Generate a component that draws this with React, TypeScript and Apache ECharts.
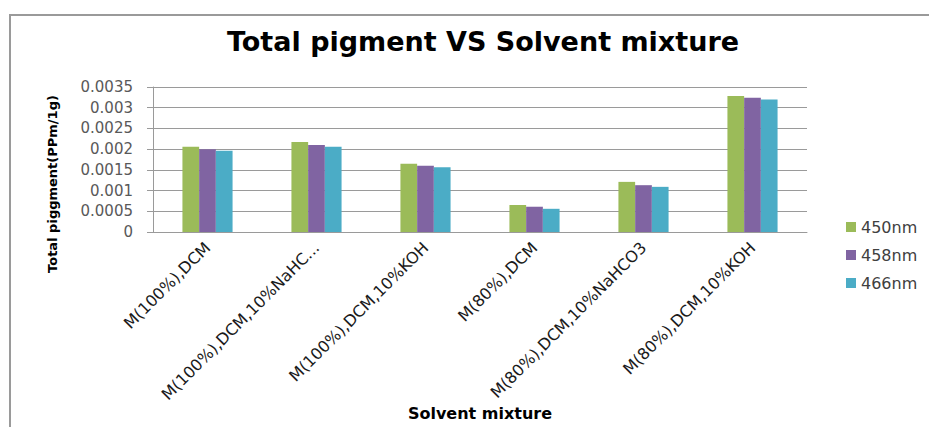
import React, { useEffect, useRef } from "react";
import * as echarts from "echarts";

const categories = [
  "M(100%),DCM",
  "M(100%),DCM,10%NaHC...",
  "M(100%),DCM,10%KOH",
  "M(80%),DCM",
  "M(80%),DCM,10%NaHCO3",
  "M(80%),DCM,10%KOH",
];
const seriesNames = ["450nm", "458nm", "466nm"];
const values450 = [0.00206, 0.00217, 0.00165, 0.00065, 0.00121, 0.00328];
const values458 = [0.002, 0.0021, 0.0016, 0.00061, 0.00113, 0.00324];
const values466 = [0.00196, 0.00206, 0.00156, 0.00056, 0.00109, 0.0032];
const colors = ["#9BBB59", "#8064A2", "#4BACC6"];

const FONT = "'DejaVu Sans', sans-serif";

export default function App() {
  const ref = useRef<HTMLDivElement>(null);
  useEffect(() => {
    if (!ref.current) return;
    const chart = echarts.init(ref.current, null, { renderer: "svg" });
    const data = [values450, values458, values466];
    chart.setOption({
      animation: false,
      backgroundColor: "#ffffff",
      title: {
        text: "Total pigment VS Solvent mixture",
        left: 478,
        textAlign: "center",
        top: 23,
        textStyle: { fontFamily: FONT, fontWeight: "bold", fontSize: 27, color: "#000000" },
      },
      graphic: [
        {
          type: "rect",
          shape: { x: 10, y: 15, width: 1000, height: 600 },
          style: { fill: "none", stroke: "#9a9a9a", lineWidth: 2 },
          silent: true,
        },
        {
          type: "text",
          x: 52,
          y: 184,
          rotation: Math.PI / 2,
          style: {
            text: "Total piggment(PPm/1g)",
            textAlign: "center",
            textVerticalAlign: "middle",
            font: "bold 13px 'DejaVu Sans', sans-serif",
            fill: "#000000",
          },
        },
      ],
      legend: {
        orient: "vertical",
        left: 841,
        top: 214,
        itemWidth: 10,
        itemHeight: 10,
        itemGap: 12,
        icon: "rect",
        textStyle: { fontFamily: FONT, fontSize: 16, color: "#404040" },
        data: seriesNames,
      },
      grid: {
        left: 153,
        right: 122,
        top: 87,
        bottom: 195,
        containLabel: false,
        outerBoundsMode: "none",
      },
      xAxis: {
        type: "category",
        data: categories,
        name: "Solvent mixture",
        nameLocation: "middle",
        nameGap: 166,
        nameTextStyle: { fontFamily: FONT, fontWeight: "bold", fontSize: 16, color: "#000000" },
        axisLine: { show: true, lineStyle: { color: "#9a9a9a", width: 1 } },
        axisTick: { show: false },
        axisLabel: {
          rotate: 45,
          interval: 0,
          margin: 13,
          fontFamily: FONT,
          fontSize: 16,
          color: "#1a1a1a",
        },
      },
      yAxis: {
        type: "value",
        min: 0,
        max: 0.0035,
        interval: 0.0005,
        axisLine: { show: true, lineStyle: { color: "#9a9a9a", width: 1 } },
        axisTick: { show: true, length: 6, lineStyle: { color: "#9a9a9a" } },
        splitLine: { show: true, lineStyle: { color: "#9a9a9a", width: 1 } },
        axisLabel: {
          margin: 20,
          fontFamily: FONT,
          fontSize: 15,
          color: "#595959",
          formatter: (v: number) => (v === 0 ? "0" : String(parseFloat(v.toFixed(4)))),
        },
      },
      series: seriesNames.map((n, i) => ({
        name: n,
        type: "bar",
        data: data[i],
        barGap: "0%",
        barCategoryGap: "54%",
        itemStyle: { color: colors[i] },
      })),
    });
    return () => chart.dispose();
  }, []);
  return (
    <div
      ref={ref}
      style={{ position: "fixed", left: 0, top: 0, width: 929, height: 427 }}
    />
  );
}
